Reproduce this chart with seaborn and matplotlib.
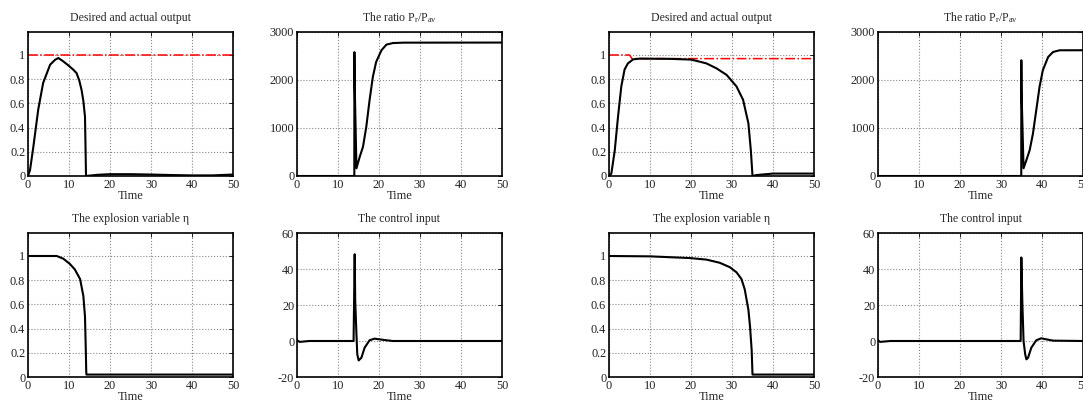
import matplotlib
matplotlib.use("Agg")
import matplotlib.pyplot as plt
import seaborn as sns
import numpy as np

# ---------------- data ----------------
# Case A (explosion near t=14)
tA_out = [0, 0.5, 1.3, 2.5, 3.7, 5.4, 6.6, 7.4, 8.5, 9.8, 11.0, 11.85, 12.5, 13.07, 13.5, 13.9, 14.05, 14.15,
          15, 17, 20, 25, 30, 35, 40, 45, 50]
yA_out = [0, 0.05, 0.24, 0.55, 0.77, 0.92, 0.96, 0.975, 0.95, 0.915, 0.88, 0.85, 0.79, 0.71, 0.62, 0.49, 0.2, 0,
          0.003, 0.01, 0.015, 0.015, 0.012, 0.008, 0.005, 0.005, 0.012]
tA_ref = [0, 50]
yA_ref = [1.0, 1.0]

tA_ratio = [0, 13.98, 14.0, 14.05, 14.5, 15.3, 16.1, 16.9, 17.7, 18.5, 19.3, 20.6, 21.8, 23.4, 26, 50]
yA_ratio = [0, 0, 2580, 2000, 160, 400, 610, 1025, 1580, 2065, 2376, 2619, 2737, 2770, 2778, 2780]

tA_eta = [0, 7.0, 8.6, 10.2, 11.4, 12.7, 13.5, 13.9, 14.1, 14.2, 14.25, 50]
yA_eta = [1.0, 1.0, 0.978, 0.935, 0.89, 0.81, 0.67, 0.5, 0.22, 0.05, 0.02, 0.02]

tA_u = [0, 0.65, 3, 8, 13.8, 14.07, 14.2, 14.5, 14.7, 15.04, 15.7, 16.5, 17.7, 18.9, 20.2, 21.8, 23.4, 50]
yA_u = [0.4, -0.5, 0, 0, 0, 48.2, 22, 3.7, -7.4, -10.8, -9.3, -3.7, 0.4, 1.3, 0.9, 0.4, 0, 0]

# Case B (explosion near t=35)
tB_out = [0, 0.57, 1.4, 2.2, 3.0, 3.8, 4.6, 5.9, 7.5, 15, 20, 22.1, 23.8, 26.2, 28.7, 31.1, 32.7, 34.0, 34.6, 35.0,
          36, 40, 44, 50]
yB_out = [0, 0.02, 0.21, 0.49, 0.74, 0.88, 0.93, 0.964, 0.97, 0.968, 0.962, 0.945, 0.93, 0.89, 0.835, 0.74, 0.63,
          0.435, 0.21, 0, 0.008, 0.02, 0.02, 0.02]
tB_ref = [0, 5.0, 5.6, 50]
yB_ref = [1.0, 1.0, 0.97, 0.97]

tB_ratio = [0, 34.94, 34.96, 35.0, 35.5, 36.2, 37.0, 37.8, 38.6, 39.4, 40.2, 41.5, 42.7, 44.3, 50]
yB_ratio = [0, 0, 2411, 1800, 160, 333, 540, 887, 1372, 1857, 2203, 2480, 2584, 2619, 2620]

tB_eta = [0, 10, 19.7, 23.8, 27, 29.5, 31.1, 32.3, 33.1, 34.0, 34.4, 34.8, 35.0, 50]
yB_eta = [1.0, 0.997, 0.983, 0.97, 0.944, 0.907, 0.865, 0.81, 0.725, 0.556, 0.416, 0.22, 0.02, 0.02]

tB_u = [0, 0.5, 3, 20, 34.8, 34.96, 35.2, 35.5, 35.9, 36.2, 36.6, 37.4, 38.6, 39.8, 41.1, 42.7, 50]
yB_u = [0.4, -0.5, 0, 0, 0, 46.4, 22, 0, -7.4, -10.2, -9.3, -3.7, 0.4, 1.5, 0.9, 0.2, 0]

titles = ["Desired and actual output", r"The ratio P$_r$/P$_{av}$",
          "The explosion variable η", "The control input"]
xticks = [0, 10, 20, 30, 40, 50]
out_yticks = [0, 0.2, 0.4, 0.6, 0.8, 1]
out_yticklabels = ["0", "0.2", "0.4", "0.6", "0.8", "1"]
ratio_yticks = [0, 1000, 2000, 3000]
u_yticks = [-20, 0, 20, 40, 60]

# ---------------- style ----------------
sns.set_theme(style="white")
plt.rcParams['font.family'] = ['Liberation Serif', 'DejaVu Serif']
plt.rcParams['mathtext.fontset'] = 'custom'
plt.rcParams['mathtext.rm'] = 'Liberation Serif'
plt.rcParams['mathtext.it'] = 'Liberation Serif'
plt.rcParams['axes.unicode_minus'] = False

W, H = 1083, 405
fig = plt.figure(figsize=(W / 100, H / 100), dpi=100)
fig.patch.set_facecolor('white')

col_lefts = [28, 297, 609, 878]
row_tops = [32, 233]
aw, ah = 205, 144


def make_ax(col, row):
    l = col_lefts[col]
    t = row_tops[row]
    return fig.add_axes([l / W, 1 - (t + ah) / H, aw / W, ah / H])


def style_ax(ax, title, yticks, ylim, yticklabels=None):
    ax.set_xlim(0, 50)
    ax.set_ylim(*ylim)
    ax.set_xticks(xticks)
    ax.set_yticks(yticks)
    if yticklabels is not None:
        ax.set_yticklabels(yticklabels)
    ax.grid(True, linestyle=':', color='#888888', linewidth=0.8)
    ax.tick_params(direction='in', length=3, width=0.6, labelsize=8.8,
                   top=True, right=True, colors='black')
    ax.tick_params(axis='x', pad=2.5)
    ax.tick_params(axis='y', pad=2)
    for s in ax.spines.values():
        s.set_color('black')
        s.set_linewidth(1.2)
    ax.set_title(title, fontsize=8.5, pad=8)
    ax.set_xlabel("Time", fontsize=9, labelpad=-1)
    ax.set_ylabel("")
    for lab in ax.get_xticklabels() + ax.get_yticklabels():
        lab.set_color('#222222')


cases = [
    (0, tA_out, yA_out, tA_ref, yA_ref, tA_ratio, yA_ratio, tA_eta, yA_eta, tA_u, yA_u),
    (2, tB_out, yB_out, tB_ref, yB_ref, tB_ratio, yB_ratio, tB_eta, yB_eta, tB_u, yB_u),
]

for c0, t_out, y_out, t_ref, y_ref, t_rat, y_rat, t_eta, y_eta, t_u, y_u in cases:
    ax = make_ax(c0, 0)
    sns.lineplot(x=t_ref, y=y_ref, ax=ax, color='red', linestyle='-.', linewidth=1.1,
                 estimator=None, sort=False)
    sns.lineplot(x=t_out, y=y_out, ax=ax, color='black', linewidth=1.5,
                 estimator=None, sort=False)
    style_ax(ax, titles[0], out_yticks, (0, 1.19), out_yticklabels)

    ax = make_ax(c0 + 1, 0)
    sns.lineplot(x=t_rat, y=y_rat, ax=ax, color='black', linewidth=1.5,
                 estimator=None, sort=False)
    style_ax(ax, titles[1], ratio_yticks, (0, 3000))

    ax = make_ax(c0, 1)
    sns.lineplot(x=t_eta, y=y_eta, ax=ax, color='black', linewidth=1.5,
                 estimator=None, sort=False)
    style_ax(ax, titles[2], out_yticks, (0, 1.19), out_yticklabels)

    ax = make_ax(c0 + 1, 1)
    sns.lineplot(x=t_u, y=y_u, ax=ax, color='black', linewidth=1.5,
                 estimator=None, sort=False)
    style_ax(ax, titles[3], u_yticks, (-20, 60))

fig.savefig("out.png", dpi=100, facecolor='white')
